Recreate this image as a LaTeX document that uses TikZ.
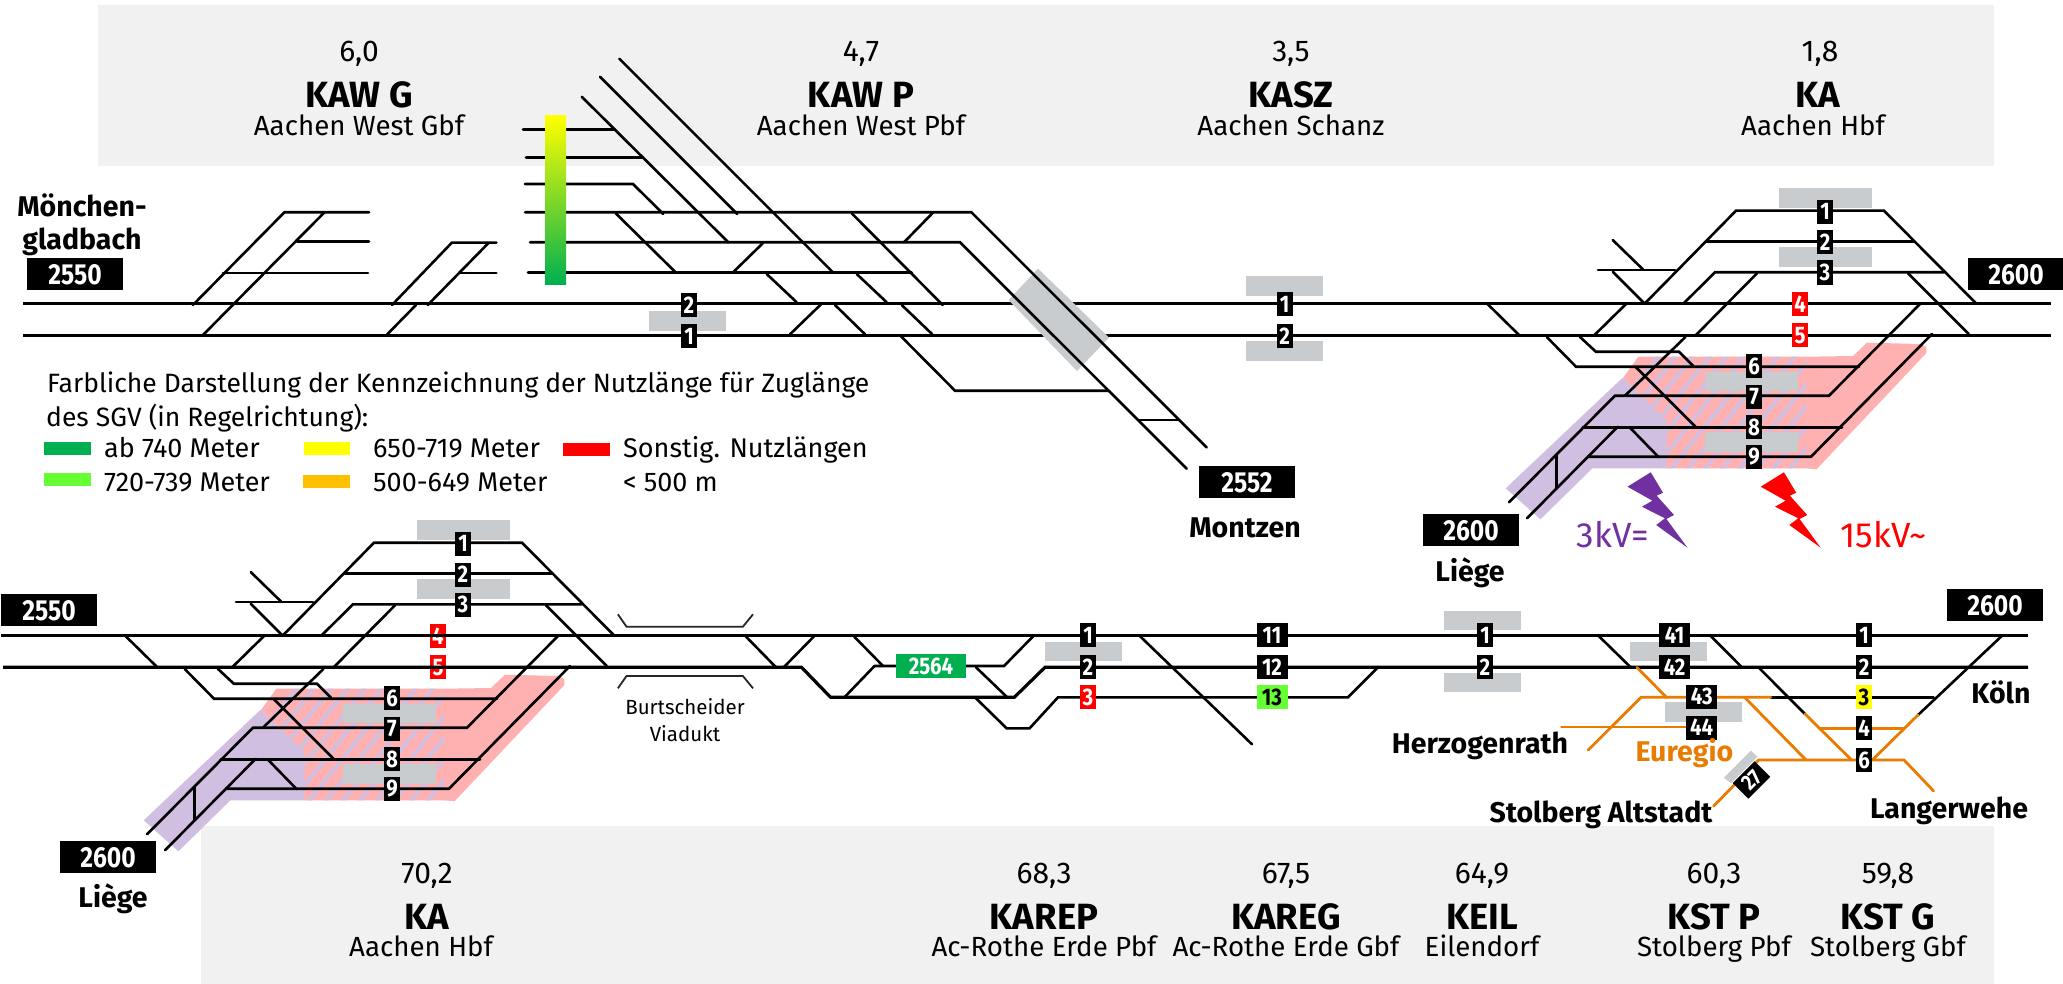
\documentclass[tikz,border=0pt]{standalone}
\usepackage{fontspec}
\setmainfont{Fira Sans}
\newfontfamily\nrfont[FakeStretch=0.85]{Fira Sans}
\usetikzlibrary{calc}
\definecolor{band}{HTML}{F1F1F1}
\definecolor{bargray}{HTML}{C8CCCF}
\definecolor{purp}{HTML}{7030A0}
\definecolor{purl}{HTML}{D1BFE1}
\definecolor{redl}{HTML}{FFB1B1}
\definecolor{grn}{HTML}{00B050}
\definecolor{lim}{HTML}{66FF33}
\definecolor{yel}{HTML}{FFFF00}
\definecolor{ora}{HTML}{FFC000}
\definecolor{rr}{HTML}{FF0000}
\definecolor{eur}{HTML}{E87C00}
\tikzset{
  trk/.style={line width=2.6pt,line cap=round,line join=miter,black},
  mtrk/.style={line width=3.2pt,black},
  otrk/.style={line width=2.8pt,line cap=round,eur},
  lb/.style={inner sep=0pt,fill=black,text=white,minimum height=24pt,minimum width=16pt,font=\nrfont\fontsize{24}{26}\bfseries\selectfont,text height=16.5pt,text depth=0pt},
  lbr/.style={lb,fill=rr},
  lbw/.style={lb,minimum width=31pt},
  lineno/.style={inner sep=0pt,fill=black,text=white,minimum width=96pt,minimum height=32pt,font=\nrfont\fontsize{29}{30}\bfseries\selectfont,text height=20pt,text depth=0pt},
  tx/.style={inner sep=0pt,font=\fontsize{27.7}{30}\selectfont,text height=19.5pt,text depth=0pt},
  km/.style={tx,font=\fontsize{30}{32}\selectfont,text height=21pt},
  code/.style={tx,font=\fontsize{36.5}{38}\bfseries\selectfont,text height=25pt},
  bd/.style={tx,font=\fontsize{28.5}{30}\bfseries\selectfont,text height=20pt},
  lg/.style={tx,anchor=west,font=\fontsize{27}{30}\selectfont},
  bar/.style={fill=bargray},
  volt/.style={tx,font=\fontsize{35}{36}\selectfont,text height=24pt},
  vd/.style={tx,font=\fontsize{20.5}{24}\selectfont,text height=14.5pt},
}
\newcommand{\hub}[1]{%
  % coloured electrification fields
  \fill[purl] (1505.7,488.3) -- (1540.4,519.3) -- (1592.4,468.3) -- (1667,468.3) -- (1667,420) -- (1623,378) -- (1622,378.3) -- cycle;
  \fill[redl] (1806,356.7) -- (1853,356) -- (1867,342.7) -- (1920,344) -- (1926.4,347) -- (1926.4,353) -- (1816.5,469.3) -- (1806,468.3) -- cycle;
  \begin{scope}
    \clip (1638.3,356.7) -- (1806,356.7) -- (1806,468.3) -- (1666.7,468.3) -- (1666.7,420) -- (1623,378) -- cycle;
    \fill[redl] (1600,340) rectangle (1820,480);
    \foreach \q in {1560,1577,...,1840}{\draw[purl,line width=3.8pt] (\q,480) -- (\q+104,350);}
  \end{scope}
  % platforms
  \fill[bar] (1779,188) rectangle (1872,207.7);
  \fill[bar] (1779,247.3) rectangle (1872,266.7);
  \fill[bar] (1705,371.5) rectangle (1798,391);
  \fill[bar] (1705,431.7) rectangle (1798,452);
  % tracks
  \draw[trk] (1645,303.3) -- (1736,210.7) -- (1884,210.7) -- (1976,303.3);
  \draw[trk] (1706.6,241.7) -- (1914.6,241.7);
  \draw[trk] (1684,303) -- (1715,272.3) -- (1944,272.3);
  \draw[trk] (1612.7,240) -- (1643,269.5);
  \draw[trk] (1598,270) -- (1675,270);
  \draw[trk] (1612.7,271.7) -- (1644,303);
  \draw[trk] (1757.3,273) -- (1696,335);
  \draw[trk] (1685.4,337) -- (1625,395.7);
  \draw[trk] (1626,304) -- (1594.5,335);
  \draw[trk] (1487.5,304) -- (1519,335);
  \draw[trk] (1546.7,337) -- (1576,366.7) -- (1859,366.7);
  \draw[trk] (1509,502.3) -- (1615,395.7) -- (1829,395.7) -- (1920,304);
  \draw[trk] (1582.7,427.3) -- (1842,427.3);
  \draw[trk] (1527,518.3) -- (1588,456.7) -- (1811,456.7) -- (1932,334);
  \draw[trk] (1908,273.3) -- (1968.7,334);
  \draw[trk] (1617.8,426.7) -- (1588,456.7);
  \draw[trk] (1629.6,427.3) -- (1658.8,457.3);
  \draw[trk] (1556.4,455) -- (1556.4,488.3);
  \draw[trk] (1579.7,336.7) -- (1595.8,351.7) -- (1679,351.7) -- (1693,365.7);
  \draw[trk] (1635.5,366.7) -- (1696,427.3);
  % labels
  \node[lb] (#1t1) at (1825,211.7) {1};
  \node[lb] (#1t2) at (1825,242.5) {2};
  \node[lb] (#1t3) at (1825,272.5) {3};
  \node[lbr] (#1t4) at (1800,304) {4};
  \node[lbr] (#1t5) at (1800,335) {5};
  \node[lb] (#1t6) at (1754,366) {6};
  \node[lb] (#1t7) at (1754,396.5) {7};
  \node[lb] (#1t8) at (1754,427) {8};
  \node[lb] (#1t9) at (1754,456.7) {9};
}
\newcommand{\bolt}[1]{%
  \fill[#1] (1650.7,472.3) -- (1663,492.7) -- (1656.7,495.7) -- (1674,515) -- (1666.4,519) -- (1687.5,547.7) -- (1656.2,525) -- (1665,518.3) -- (1641.9,506.7) -- (1652.4,500.7) -- (1627.5,486.7) -- cycle;
}
\begin{document}
\begin{tikzpicture}[x=1pt,y=-1pt]
\useasboundingbox (0,0) rectangle (2063,984);
\fill[white] (0,0) rectangle (2063,984);
% bands
\fill[band] (98,5) rectangle (1994,166);
\fill[band] (201,826) rectangle (1994,984);

%% ---------- upper line ----------
\draw[mtrk] (23,303.3) -- (2051,303.3);
\draw[mtrk] (23,335.3) -- (2051,335.3);
% bridge
\fill[bargray] (1038,268.6) -- (1109,337.5) -- (1077,371) -- (1008.5,300) -- cycle;
\fill[bar] (649,311) rectangle (726,331);
\fill[bar] (1246,276) rectangle (1323,296);
\fill[bar] (1246,341) rectangle (1323,361);
% West Gbf
\draw[trk] (192.9,305) -- (284.4,212.3) -- (369,212.3);
\draw[trk] (203,335) -- (324.5,212.3);
\draw[trk] (297,241.7) -- (369,241.7);
\draw[trk] (223,273) -- (368,273);
\draw[trk] (392,305) -- (451.8,242.7) -- (496.4,242.7);
\draw[trk] (427.7,305) -- (488.8,242.7);
\draw[trk] (460,273) -- (496.4,273);
\draw[trk] (416,305) -- (386.6,335);
% West Pbf
\draw[trk] (523,129.3) -- (615,129.3);
\draw[trk] (526,157.3) -- (641.7,157.3);
\draw[trk] (525,184) -- (633,184) -- (663.3,214);
\draw[trk] (525,212.3) -- (971.4,212.3) -- (1206.7,447.5);
\draw[trk] (530,242.3) -- (960,242.3) -- (1186.6,468.6);
\draw[trk] (528,272.7) -- (911.7,272.7);
\draw[trk] (581.7,96.7) -- (728.3,242.3);
\draw[trk] (600,76.7) -- (737.3,214);
\draw[trk] (619.3,58.7) -- (833.3,272.7);
\draw[trk] (615.7,213.3) -- (676,272.7);
\draw[trk] (762.7,243.3) -- (732.7,272.7);
\draw[trk] (851.7,213.3) -- (942.7,305);
\draw[trk] (933.3,212.3) -- (904,242.3);
\draw[trk] (766.7,274) -- (796.7,302.3);
\draw[trk] (856.7,274) -- (886.7,302.3);
\draw[trk] (821,304.3) -- (790,334.3);
\draw[trk] (835,305) -- (865,334.3);
\draw[trk] (901.7,305) -- (932.3,334.3);
\draw[trk] (900.7,336) -- (955,390.7) -- (1109,390.7);
\draw[trk] (1139,420) -- (1179,420);
\shade[top color=yel,middle color=lim,bottom color=grn] (545,116) rectangle (566,284);

\hub{a}
\begin{scope}[shift={(-1362,332)}]
  \hub{b}
\end{scope}

\node[lb] (p2) at (689,305) {2};
\node[lb] (p1) at (689,336) {1};
\node[lb] (s1) at (1284.6,304) {1};
\node[lb] (s2) at (1284.6,336) {2};

%% ---------- lower line ----------
\draw[mtrk] (1,635.3) -- (2028,635.3);
\draw[mtrk] (3,667.3) -- (801.5,667.3) -- (830.6,697.3) -- (1014.3,697.3) -- (1045,667.3) -- (2028,667.3);
\draw[trk] (874.5,666) -- (1004,666) -- (1033.7,635.7);
\draw[trk] (853.6,636) -- (883,666);
\draw[trk] (874.5,666) -- (845,696.7);
\draw[trk] (976,667.3) -- (1006.6,696.7);
\draw[trk] (976,698.3) -- (1006.6,728.3) -- (1029.6,728.3) -- (1058,697.3) -- (1348,697.3) -- (1378,667.3);
\draw[trk] (745.4,636) -- (776,667.3);
\draw[trk] (814.3,636) -- (783.7,667.3);
\draw[trk] (1139.8,636) -- (1252,744.3);
% viaduct
\draw[line width=1.8pt,black!85] (617.9,614.3) -- (626.5,626.7) -- (742.9,626.7) -- (753,614.3);
\draw[line width=1.8pt,black!85] (617.9,688.3) -- (626.5,676) -- (742.9,676) -- (753,688.3);
% platforms
\fill[bar] (1045.4,642) rectangle (1122,661);
\fill[bar] (1444.4,611) rectangle (1521.4,630);
\fill[bar] (1444.4,672.7) rectangle (1521.4,691.7);
\fill[bar] (1629.6,642) rectangle (1706.6,661);
\fill[bar] (1665,702) rectangle (1741.6,722);
% Stolberg
\draw[trk] (1598.7,636) -- (1630.4,667);
\draw[trk] (1710.8,636) -- (1741.6,667);
\draw[trk] (1759.4,668.3) -- (1805,714);
\draw[trk] (1770.8,697.3) -- (1933.6,697.3);
\draw[trk] (2001.7,636) -- (1918,715);
\draw[otrk] (1805,714) -- (1851.6,760);
\draw[otrk] (1918,715) -- (1872.3,760);
\draw[otrk] (1636.8,667.3) -- (1666.4,697.3);
\draw[otrk] (1588.2,750) -- (1641,697.3) -- (1770.8,697.3);
\draw[otrk] (1561.5,727) -- (1687.5,727);
\draw[otrk] (1744.6,697.3) -- (1806,760);
\draw[otrk] (1713.7,806) -- (1758.6,760) -- (1904,760) -- (1933.6,791);
\draw[otrk] (1820,728.3) -- (1904,728.3);
\fill[bargray] (1751,750.7) -- (1757.3,756.7) -- (1731,783.3) -- (1724,777.7) -- cycle;
% lower labels
\node[lb] (e1) at (1088,635) {1};
\node[lb] (e2) at (1088,667) {2};
\node[lbr] (e3) at (1088,697) {3};
\node[lbw] (g11) at (1272,635) {11};
\node[lbw] (g12) at (1272,667) {12};
\node[lbw,fill=lim,text=black] (g13) at (1272,697) {13};
\node[lb] (k1) at (1485,635) {1};
\node[lb] (k2) at (1485,667) {2};
\node[lbw] (p41) at (1674.6,635) {41};
\node[lbw] (p42) at (1674.6,667) {42};
\node[lbw] (p43) at (1701.7,696.7) {43};
\node[lbw] (p44) at (1701.7,727.7) {44};
\node[lb] (q1) at (1864,635) {1};
\node[lb] (q2) at (1864,667) {2};
\node[lb,fill=yel,text=black] (q3) at (1864,697.3) {3};
\node[lb] (q4) at (1864,728.3) {4};
\node[lb] (q6) at (1864,760) {6};
\node[lb,rotate=45,minimum width=31pt,minimum height=22pt,font=\nrfont\fontsize{22}{24}\bfseries\selectfont,text height=15.5pt] (q27) at (1751.5,780) {27};
\node[lb,fill=grn,minimum width=70pt] (r2564) at (931,666) {2564};

%% line numbers
\node[lineno] (n2550a) at (75,274) {2550};
\node[lineno] (n2600a) at (2016,274) {2600};
\node[lineno] (n2552) at (1247,482) {2552};
\node[lineno] (n2600b) at (1471,530) {2600};
\node[lineno] (n2550b) at (49,610) {2550};
\node[lineno] (n2600c) at (108,857) {2600};
\node[lineno] (n2600d) at (1995,605) {2600};

%% place names
\node[bd] (mg1) at (82,207) {Mönchen-};
\node[bd] (mg2) at (82,240) {gladbach};
\node[bd] (montzen) at (1245,527) {Montzen};
\node[bd] (liege1) at (1470,571) {Liège};
\node[bd] (liege2) at (113,897) {Liège};
\node[bd] (koeln) at (2001,693) {Köln};
\node[bd] (herz) at (1480,743) {Herzogenrath};
\node[bd,text=eur] (euregio) at (1684.4,751) {Euregio};
\node[bd] (stolalt) at (1601,812) {Stolberg Altstadt};
\node[bd] (langer) at (1949,808) {Langerwehe};

%% voltages
\bolt{purp}
\begin{scope}[shift={(133.2,0)}]\bolt{rr}\end{scope}
\node[volt,text=purp] (v3) at (1613,535.7) {3kV=};
\node[volt,text=rr] (v15) at (1883.7,535) {15kV\char`\~};

%% legend
\node[lg,font=\fontsize{26.5}{30}\selectfont] (l1) at (47,383) {Farbliche Darstellung der Kennzeichnung der Nutzlänge für Zuglänge};
\node[lg,font=\fontsize{26.5}{30}\selectfont] (l2) at (46,417) {des SGV (in Regelrichtung):};
\fill[grn] (44,442) rectangle (91,455);
\fill[lim] (44,473) rectangle (91,486);
\fill[yel] (304,442) rectangle (350,455);
\fill[ora] (303,475) rectangle (350,488);
\fill[rr] (563,443) rectangle (610,456);
\node[lg] (l3) at (104,448) {ab 740 Meter};
\node[lg] (l4) at (104,482) {720-739 Meter};
\node[lg] (l5) at (373,448) {650-719 Meter};
\node[lg] (l6) at (373,482) {500-649 Meter};
\node[lg] (l7) at (623,448) {Sonstig. Nutzlängen};
\node[lg] (l8) at (623,482) {< 500 m};

%% stations top
\node[km] (k01) at (359,51) {6,0};
\node[code] (c01) at (359,95) {KAW G};
\node[tx] (d01) at (359,126) {Aachen West Gbf};
\node[km] (k02) at (861,51) {4,7};
\node[code] (c02) at (861,95) {KAW P};
\node[tx] (d02) at (861,126) {Aachen West Pbf};
\node[km] (k03) at (1291,51) {3,5};
\node[code] (c03) at (1291,95) {KASZ};
\node[tx] (d03) at (1291,126) {Aachen Schanz};
\node[km] (k04) at (1820,51) {1,8};
\node[code] (c04) at (1818,95) {KA};
\node[tx] (d04) at (1813,126) {Aachen Hbf};
%% stations bottom
\node[km] (k05) at (427,873) {70,2};
\node[code] (c05) at (427,917) {KA};
\node[tx] (d05) at (421,947) {Aachen Hbf};
\node[km] (k06) at (1044,873) {68,3};
\node[code] (c06) at (1044,917) {KAREP};
\node[tx] (d06) at (1044,947) {Ac-Rothe Erde Pbf};
\node[km] (k07) at (1286,873) {67,5};
\node[code] (c07) at (1286,917) {KAREG};
\node[tx] (d07) at (1286,947) {Ac-Rothe Erde Gbf};
\node[km] (k08) at (1482,873) {64,9};
\node[code] (c08) at (1482,917) {KEIL};
\node[tx] (d08) at (1482,947) {Eilendorf};
\node[km] (k09) at (1714,873) {60,3};
\node[code] (c09) at (1714,917) {KST P};
\node[tx] (d09) at (1714,947) {Stolberg Pbf};
\node[km] (k10) at (1888,873) {59,8};
\node[code] (c10) at (1888,917) {KST G};
\node[tx] (d10) at (1888,947) {Stolberg Gbf};
%% viaduct text
\node[vd] (via1) at (685,707) {Burtscheider};
\node[vd] (via2) at (685,734) {Viadukt};
\end{tikzpicture}
\end{document}
